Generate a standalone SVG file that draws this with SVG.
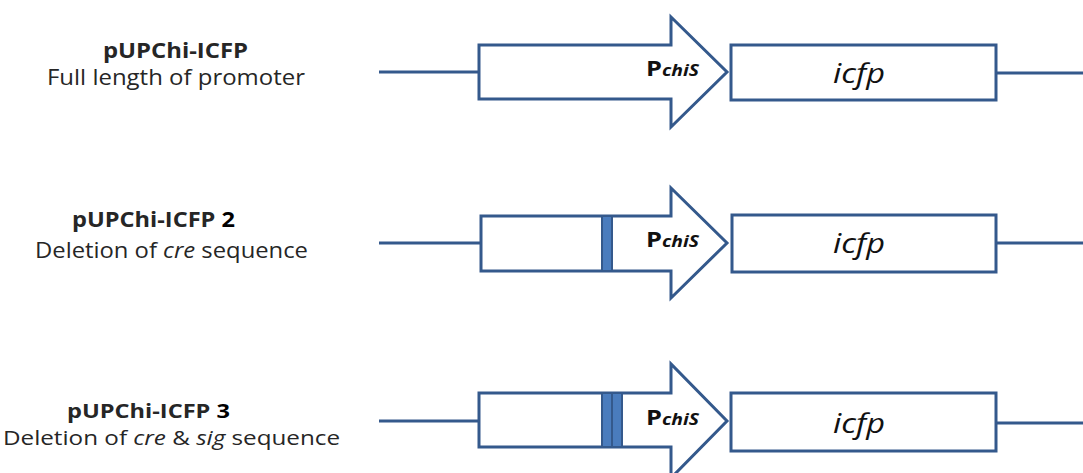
<svg xmlns="http://www.w3.org/2000/svg" width="1083" height="473" viewBox="0 0 1083 473">
<style>
.ln{stroke:#34598c;stroke-width:3;fill:none}
.shp{stroke:#34598c;stroke-width:3;fill:#fff;stroke-linejoin:miter}
.mk{stroke:#34598c;stroke-width:2;fill:#4a7cbd}
.t{font-family:"Open Sans",Lato,sans-serif;fill:#262626}
.b{font-weight:bold}
.gene{font-family:"Open Sans",Lato,sans-serif;font-style:italic;font-size:27px;fill:#111}
.p{font-family:"Open Sans",Lato,sans-serif;font-weight:bold;fill:#111}
</style>
<rect width="1083" height="473" fill="#fff"/>
<g id="connectors">
<line class="ln" x1="379" y1="72" x2="479" y2="72"/>
<line class="ln" x1="996" y1="73" x2="1083" y2="73"/>
<line class="ln" x1="379" y1="243" x2="481" y2="243"/>
<line class="ln" x1="996" y1="243" x2="1083" y2="243"/>
<line class="ln" x1="379" y1="421" x2="479" y2="421"/>
<line class="ln" x1="996" y1="423" x2="1083" y2="423"/>
</g>
<g id="label1">
<text class="t b" x="103" y="58" font-size="21" textLength="145" lengthAdjust="spacingAndGlyphs">pUPChi-ICFP</text>
<text class="t" x="47" y="85" font-size="21" textLength="258" lengthAdjust="spacingAndGlyphs">Full length of promoter</text>
</g>
<g id="label2">
<text class="t b" x="72" y="227" font-size="21" textLength="163" lengthAdjust="spacingAndGlyphs">pUPChi-ICFP <tspan fill="#000">2</tspan></text>
<text class="t" x="35" y="258" font-size="21" textLength="273" lengthAdjust="spacingAndGlyphs">Deletion of <tspan font-style="italic">cre</tspan> sequence</text>
</g>
<g id="label3">
<text class="t b" x="67" y="418" font-size="20" textLength="163" lengthAdjust="spacingAndGlyphs">pUPChi-ICFP <tspan fill="#000">3</tspan></text>
<text class="t" x="3" y="445" font-size="20" textLength="337" lengthAdjust="spacingAndGlyphs">Deletion of <tspan font-style="italic">cre</tspan> &amp; <tspan font-style="italic">sig</tspan> sequence</text>
</g>
<g id="promoter1">
<polygon class="shp" points="479,45 671,45 671,17 727,72 671,127 671,99 479,99"/>
<text class="p" x="646" y="76" font-size="21" textLength="53" lengthAdjust="spacingAndGlyphs">P<tspan font-style="italic" font-size="16">chiS</tspan></text>
</g>
<g id="icfp1">
<rect class="shp" x="731" y="45" width="265" height="55"/>
<text class="gene" x="833" y="83" textLength="52" lengthAdjust="spacingAndGlyphs">icfp</text>
</g>
<g id="promoter2">
<polygon class="shp" points="481,216 671,216 671,188 727,243 671,298 671,271 481,271"/>
<rect class="mk" x="602" y="216" width="10" height="55"/>
<text class="p" x="646" y="247" font-size="21" textLength="53" lengthAdjust="spacingAndGlyphs">P<tspan font-style="italic" font-size="16">chiS</tspan></text>
</g>
<g id="icfp2">
<rect class="shp" x="732" y="215" width="264" height="57"/>
<text class="gene" x="833" y="253" textLength="52" lengthAdjust="spacingAndGlyphs">icfp</text>
</g>
<g id="promoter3">
<polygon class="shp" points="479,393 671,393 671,364 727,421 671,478 671,447 479,447"/>
<rect class="mk" x="602" y="393" width="20" height="54"/>
<line x1="612" y1="393" x2="612" y2="447" stroke="#34598c" stroke-width="2"/>
<text class="p" x="646" y="425" font-size="21" textLength="53" lengthAdjust="spacingAndGlyphs">P<tspan font-style="italic" font-size="16">chiS</tspan></text>
</g>
<g id="icfp3">
<rect class="shp" x="731" y="393" width="265" height="58"/>
<text class="gene" x="833" y="433" textLength="52" lengthAdjust="spacingAndGlyphs">icfp</text>
</g>
</svg>
